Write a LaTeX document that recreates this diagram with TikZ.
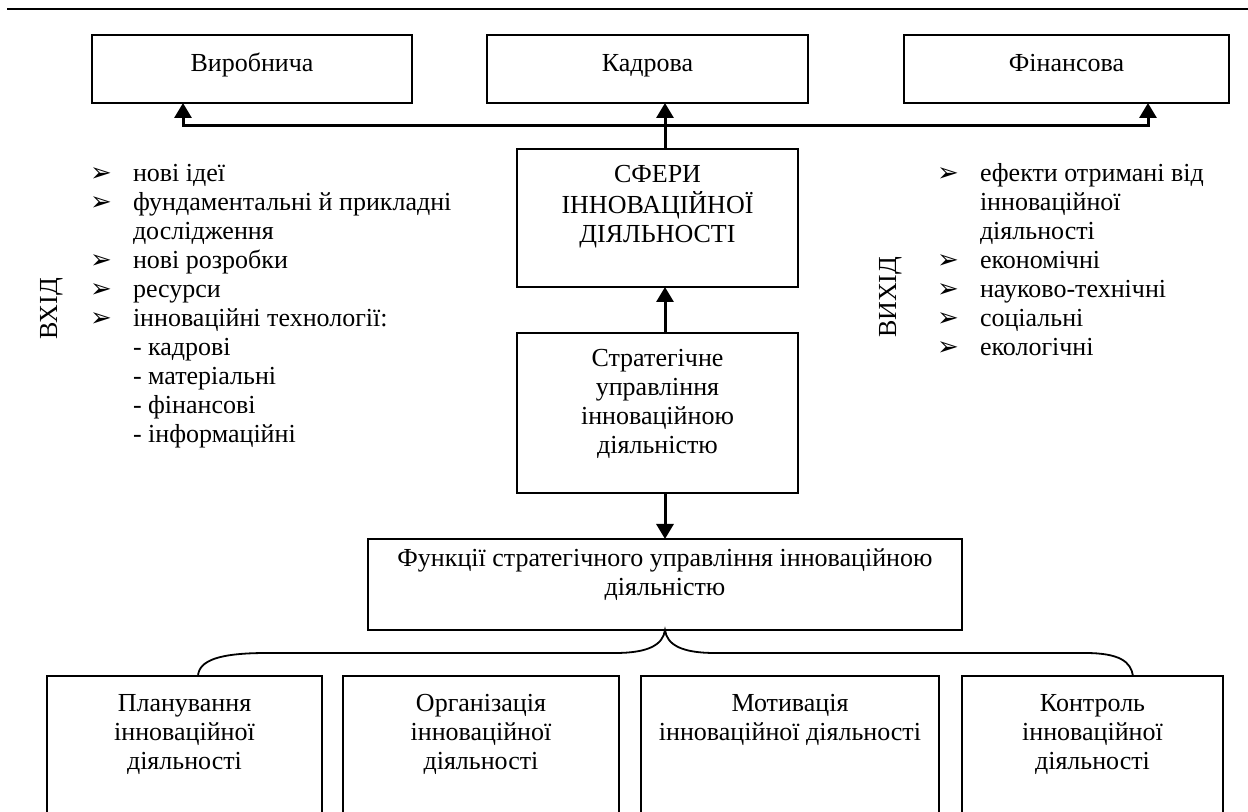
\documentclass[tikz,border=0pt]{standalone}
\usepackage{fontspec}
\setmainfont{Liberation Serif}
\newfontfamily\symfont{DejaVu Sans}
\usetikzlibrary{arrows.meta}

% list marker and indentation of continuation lines
\newcommand{\bul}{\makebox[21.5pt][l]{\symfont\fontsize{13}{13}\selectfont ➢}}
\newcommand{\nob}{\hspace*{21.5pt}}
% centred and left-aligned stacks whose baseline is the first line
\newcommand{\clines}[1]{\begin{tabular}[t]{@{}c@{}}#1\end{tabular}}
\newcommand{\llines}[1]{\begin{tabular}[t]{@{}l@{}}#1\end{tabular}}

\begin{document}
\begin{tikzpicture}[x=0.5pt,y=-0.5pt,
  every node/.style={font=\fontsize{13}{14.5}\selectfont, inner sep=0pt, outer sep=0pt},
  box/.style={draw, line width=1pt, rectangle},
  txt/.style={anchor=base},
  conn/.style={line width=1.5pt, -{Triangle[width=8.5pt,length=7.5pt]}},
  brace/.style={line width=0.9pt}
]
\clip (0,0) rectangle (1248,812);

% rule at the top
\coordinate (rl) at (7,9);
\coordinate (rr) at (1248,9);
\draw[line width=1pt] (rl) -- (rr);

% spheres of activity
\node[box, minimum width=160pt, minimum height=34pt] (vyr) at (252,69) {};
\node[box, minimum width=160.5pt, minimum height=34pt] (kad) at (647.5,69) {};
\node[box, minimum width=162.5pt, minimum height=34pt] (fin) at (1066.5,69) {};
\node[txt] (vyrT) at (252,72) {Виробнича};
\node[txt] (kadT) at (647.5,72) {Кадрова};
\node[txt] (finT) at (1066.5,72) {Фінансова};

% central column
\node[box, minimum width=140.5pt, minimum height=69pt] (sf) at (657.5,218) {};
\node[txt] (sfT) at (657.5,183) {\clines{СФЕРИ\\ІННОВАЦІЙНОЇ\\ДІЯЛЬНОСТІ}};

\node[box, minimum width=140.5pt, minimum height=80pt] (str) at (657.5,413) {};
\node[txt] (strT) at (657.5,367) {\clines{Стратегічне\\управління\\інноваційною\\діяльністю}};

\node[box, minimum width=297pt, minimum height=45.5pt] (fn) at (665,584.5) {};
\node[txt] (fnT) at (665,567) {\clines{Функції стратегічного управління інноваційною\\діяльністю}};

% functions
\node[box, minimum width=137.5pt, minimum height=77pt] (pl) at (184.5,753) {};
\node[box, minimum width=138pt, minimum height=77pt] (org) at (481,753) {};
\node[box, minimum width=149pt, minimum height=77pt] (mot) at (790,753) {};
\node[box, minimum width=130.5pt, minimum height=77pt] (kon) at (1092.5,753) {};
\node[txt] (plT) at (184.5,711) {\clines{Планування\\інноваційної\\діяльності}};
\node[txt] (orgT) at (481,711) {\clines{Організація\\інноваційної\\діяльності}};
\node[txt] (motT) at (790,711) {\clines{Мотивація\\інноваційної діяльності}};
\node[txt] (konT) at (1092.5,711) {\clines{Контроль\\інноваційної\\діяльності}};

% input and output
\node[rotate=90, anchor=base west] (vhid) at (57,340) {ВХІД};
\node[rotate=90, anchor=base west] (vyhid) at (896,338) {ВИХІД};

\node[anchor=base west] (inList) at (90,182) {\llines{%
\bul нові ідеї\\
\bul фундаментальні й прикладні\\
\nob дослідження\\
\bul нові розробки\\
\bul ресурси\\
\bul інноваційні технології:\\
\nob - кадрові\\
\nob - матеріальні\\
\nob - фінансові\\
\nob - інформаційні}};

\node[anchor=base west] (outList) at (937,182) {\llines{%
\bul ефекти отримані від\\
\nob інноваційної\\
\nob діяльності\\
\bul економічні\\
\bul науково-технічні\\
\bul соціальні\\
\bul екологічні}};

% connectors
\coordinate (hub) at (665,126);
\coordinate (lb) at (183,126);
\coordinate (rb) at (1148,126);
\draw[conn] (sf.north -| hub) -- (kad.south -| hub);
\draw[conn] (hub) -- (lb) -- (lb |- vyr.south);
\draw[conn] (hub) -- (rb) -- (rb |- fin.south);
\draw[conn] (str.north -| hub) -- (sf.south -| hub);
\draw[conn] (str.south -| hub) -- (fn.north -| hub);

% brace from the functions box to the four functions
\coordinate (bl) at (198,676);
\coordinate (br) at (1133,676);
\draw[brace] (pl.north -| bl) .. controls (199,660) and (220,653) .. (267,653)
  -- (615,653) .. controls (648,653) and (663,645) .. (fn.south -| hub)
  .. controls (667,645) and (682,653) .. (715,653)
  -- (1085,653) .. controls (1120,653) and (1131,662) .. (kon.north -| br);
\end{tikzpicture}
\end{document}
